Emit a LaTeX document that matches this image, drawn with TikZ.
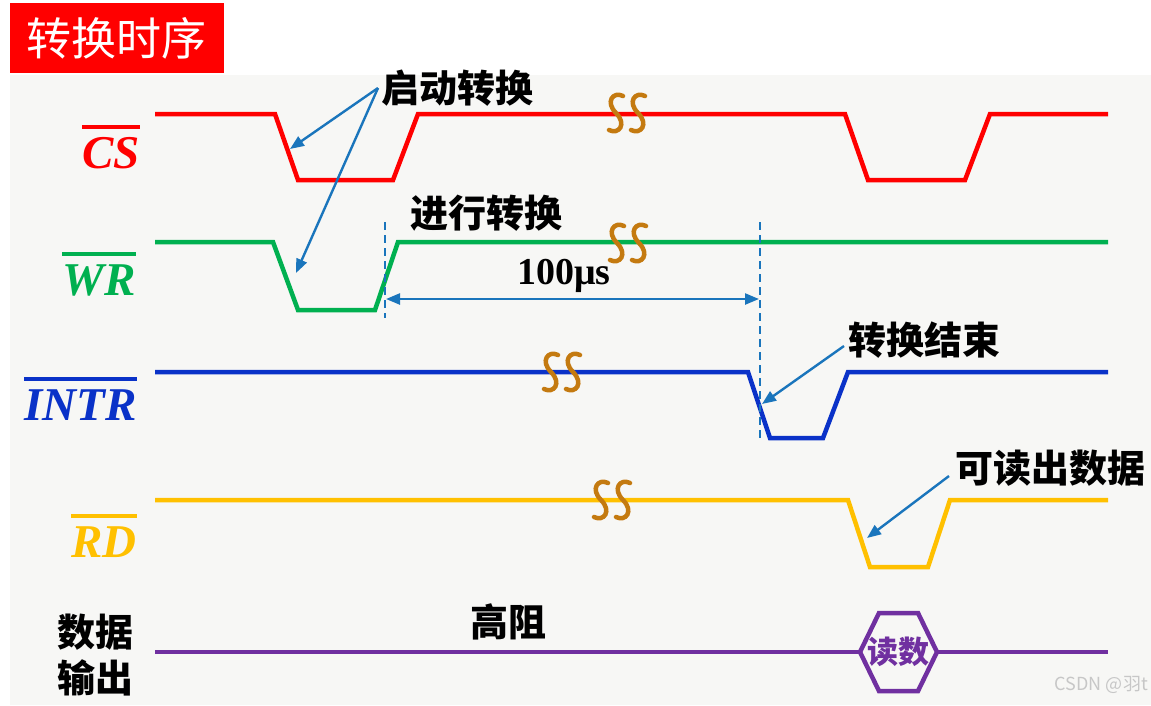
\documentclass[tikz,border=0pt]{standalone}
\usepackage{fontspec}
\setmainfont{Liberation Serif}
\newfontfamily\cjk{Noto Sans CJK SC}
\usetikzlibrary{arrows.meta}
\definecolor{bg}{HTML}{F7F7F5}
\definecolor{sred}{HTML}{FF0000}
\definecolor{sgreen}{HTML}{00B050}
\definecolor{sblue}{HTML}{0A32C8}
\definecolor{syellow}{HTML}{FFC000}
\definecolor{spurple}{HTML}{7030A0}
\definecolor{abl}{HTML}{1A75BC}
\definecolor{brkcol}{HTML}{C47A10}
\tikzset{
  sig/.style={line width=4.5pt},
  callout/.style={draw=abl, line width=2.4pt, -{Triangle[length=14pt,width=11pt]}},
  dimarrow/.style={draw=abl, line width=2.4pt, {Triangle[length=14pt,width=11pt]}-{Triangle[length=14pt,width=11pt]}},
  vdash/.style={draw=abl, line width=2pt, dash pattern=on 8pt off 5pt},
  cn/.style={font=\cjk\bfseries\fontsize{38}{40}\selectfont, inner sep=0pt, anchor=west},
  sn/.style={font=\bfseries\itshape\fontsize{47}{50}\selectfont, inner sep=0pt, anchor=base east},
  brkpair/.pic={
    \foreach \dx in {-11,11} {
      \draw[brkcol, line width=4.5pt, line cap=round]
        (\dx+7,-17) .. controls (\dx-3,-22) and (\dx-11,-11) .. (\dx,0)
        .. controls (\dx+11,11) and (\dx+3,22) .. (\dx-7,17);
    }
  }
}
\begin{document}
\begin{tikzpicture}[x=1pt,y=-1pt]
\useasboundingbox (0,0) rectangle (1151,705);
\fill[white] (0,0) rectangle (1151,705);
\fill[bg] (10,75) rectangle (1151,705);

% title
\node[fill=sred, minimum width=214pt, minimum height=70pt, inner sep=0pt, text=white,
      font=\cjk\fontsize{45}{47}\selectfont] (title) at (117,38) {转换时序};

% signal names
\node[sn, sred] (cs) at (140,168) {CS};
\draw[sred, line width=4pt] ([yshift=41pt]cs.base west) -- ([yshift=41pt]cs.base east);
\node[sn, sgreen] (wr) at (136,295) {WR};
\draw[sgreen, line width=4pt] ([yshift=41pt]wr.base west) -- ([yshift=41pt]wr.base east);
\node[sn, sblue] (intr) at (137,420) {INTR};
\draw[sblue, line width=4pt] ([yshift=41pt]intr.base west) -- ([yshift=41pt]intr.base east);
\node[sn, syellow] (rd) at (137,557) {RD};
\draw[syellow, line width=4pt] ([yshift=41pt]rd.base west) -- ([yshift=41pt]rd.base east);
\node[cn] (sj) at (57,632) {数据};
\node[cn] (sc) at (57,678) {输出};

% waveforms
\draw[sig, sred] (155,114) -- (275,114) -- (298,180) -- (393,180) -- (418,114) -- (845,114)
  -- (868,180) -- (965,180) -- (990,114) -- (1108,114);
\draw[sig, sgreen] (155,242) -- (273,242) -- (298,310) -- (375,310) -- (398,242) -- (1108,242);
\draw[sig, sblue] (155,372) -- (748,372) -- (770,438) -- (823,438) -- (848,372) -- (1108,372);
\draw[sig, syellow] (155,500) -- (848,500) -- (870,567) -- (928,567) -- (950,500) -- (1108,500);
\draw[sig, spurple] (155,652) -- (860,652);
\draw[sig, spurple] (860,652) -- (879,613) -- (918,613) -- (937,652)
  -- (918,691) -- (879,691) -- cycle;
\draw[sig, spurple] (937,652) -- (1108,652);
\node[font=\cjk\bfseries\fontsize{31}{33}\selectfont, text=spurple, inner sep=0pt] (ds) at (898,652) {读数};

% break marks
\pic at (627,113) {brkpair};
\pic at (628,243) {brkpair};
\pic at (562,372) {brkpair};
\pic at (612,500) {brkpair};

% dashed markers and 100us
\coordinate (d1t) at (385,222); \coordinate (d1b) at (385,318);
\coordinate (d2t) at (760,222); \coordinate (d2b) at (760,440);
\draw[vdash] (d1t) -- (d1b);
\draw[vdash] (d2t) -- (d2b);
\coordinate (m1) at (386,299); \coordinate (m2) at (759,299);
\draw[dimarrow] (m1) -- (m2);
\node[font=\bfseries\fontsize{38}{40}\selectfont, inner sep=0pt] (us) at (564,276) {100μs};

% annotations
\node[cn] (qd) at (381,88) {启动转换};
\node[cn] (jx) at (410,213) {进行转换};
\node[cn] (js) at (848,340) {转换结束};
\node[cn] (kd) at (955,468) {可读出数据};
\node[cn] (gz) at (470,622) {高阻};

\coordinate (csf) at (290,149);
\coordinate (wrf) at (296,273);
\coordinate (inf) at (762,404);
\coordinate (rdf) at (867,538);
\draw[callout] ([xshift=-3pt]qd.west) -- (csf);
\draw[callout] ([xshift=-3pt]qd.west) -- (wrf);
\draw[callout] ([xshift=-4pt,yshift=-6pt]js.west) -- (inf);
\draw[callout] ([xshift=-6pt,yshift=-8pt]kd.west) -- (rdf);

% watermark
\node[font=\cjk\fontsize{18}{20}\selectfont, text=black!22, anchor=east, inner sep=0pt] (wm) at (1148,685) {CSDN @羽t};
\end{tikzpicture}
\end{document}
